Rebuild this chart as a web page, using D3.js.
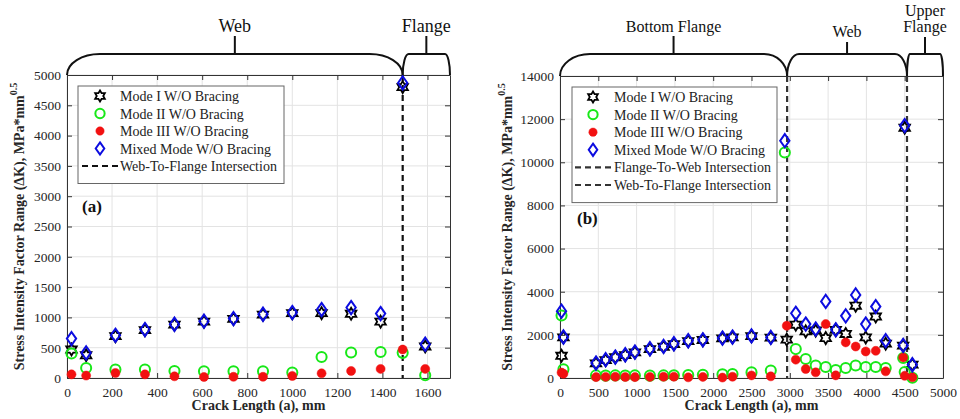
<!DOCTYPE html>
<html><head><meta charset="utf-8">
<script src="https://cdn.jsdelivr.net/npm/d3@7"></script>
<style>body{margin:0;background:#fff}svg{display:block}</style>
</head><body>
<svg id="c" width="960" height="419"></svg>
<script>
// ---------- DATA ----------
const leftX       = [20, 85, 215, 346, 477, 608, 739, 870, 1000, 1130, 1261, 1392, 1490, 1590];
const leftModeI   = [470, 375, 690, 790, 880, 930, 975, 1045, 1070, 1070, 1060, 930, 4800, 520];
const leftModeII  = [405, 165, 140, 140, 116, 110, 110, 110, 90, 347, 420, 430, 415, 45];
const leftModeIII = [60, 40, 83, 60, 28, 17, 20, 20, 33, 77, 116, 150, 470, 150];
const leftMixed   = [650, 415, 705, 800, 887, 937, 980, 1052, 1080, 1130, 1163, 1063, 4870, 557];

const rightX       = [20, 45, 470, 596, 722, 852, 978, 1174, 1352, 1487, 1674, 1865, 2121, 2252, 2500, 2752, 2935, 2960,
                      3078, 3208, 3338, 3469, 3600, 3730, 3860, 3991, 4122, 4252, 4480, 4500, 4600];
const rightModeI   = [1030, 1880, 680, 830, 960, 1060, 1190, 1340, 1450, 1570, 1710, 1760, 1840, 1880, 1940, 1870, null, 1780,
                      2470, 2160, 2200, 1850, 2230, 2040, 3350, 1880, 2850, 1590, 1500, 11600, 620];
const rightModeII  = [2900, 400, 120, 110, 120, 115, 120, 110, 120, 125, 140, 150, 170, 185, 260, 350, 10450, null,
                      1340, 880, 580, 510, 370, 460, 580, 510, 510, 460, 925, 277, 15];
const rightModeIII = [250, 200, 40, 50, 55, 45, 40, 50, 55, 60, 30, 50, 20, 60, 120, 76, null, 2420,
                      850, 416, 262, 2500, 122, 1650, 1460, 1230, 1260, 308, 955, 100, 30];
const rightMixed   = [3100, 1900, 694, 847, 971, 1078, 1201, 1356, 1464, 1587, 1726, 1772, 1850, 1897, 1950, 1880, 11000, null,
                      3000, 2500, 2270, 3550, 2235, 2880, 3850, 2500, 3310, 1730, 1510, 11700, 615];

const leftXTicks = [0, 200, 400, 600, 800, 1000, 1200, 1400, 1600];
const leftYTicks = [0, 500, 1000, 1500, 2000, 2500, 3000, 3500, 4000, 4500, 5000];
const rightXTicks = [0, 500, 1000, 1500, 2000, 2500, 3000, 3500, 4000, 4500, 5000];
const rightYTicks = [0, 2000, 4000, 6000, 8000, 10000, 12000, 14000];

const leftLines = [1490];
const rightLines = [2965, 4530];

const leftRegions = [{name: ["Web"], from: 0, to: 1490}, {name: ["Flange"], from: 1490, to: 1700}];
const rightRegions = [{name: ["Bottom Flange"], from: 0, to: 2965}, {name: ["Web"], from: 2965, to: 4530},
                      {name: ["Upper", "Flange"], from: 4530, to: 5000}];

const seriesNames = ["Mode I W/O Bracing", "Mode II W/O Bracing", "Mode III W/O Bracing", "Mixed Mode W/O Bracing"];
const leftLineNames = ["Web-To-Flange Intersection"];
const rightLineNames = ["Flange-To-Web Intersection", "Web-To-Flange Intersection"];

// ---------- MARKERS ----------
const hexagram = {draw(ctx, size) {
  const R = Math.sqrt(size) * 0.62, r = R / Math.sqrt(3);
  for (let i = 0; i < 12; i++) {
    const a = -Math.PI / 2 + i * Math.PI / 6, rr = i % 2 ? r : R;
    const x = rr * Math.cos(a), y = rr * Math.sin(a);
    i ? ctx.lineTo(x, y) : ctx.moveTo(x, y);
  }
  ctx.closePath();
}};
const tallDiamond = {draw(ctx, size) {
  const h = Math.sqrt(size) * 0.62, w = h * 0.7;
  ctx.moveTo(0, -h); ctx.lineTo(w, 0); ctx.lineTo(0, h); ctx.lineTo(-w, 0); ctx.closePath();
}};
const styles = [
  {type: hexagram, size: 95, fill: "none", stroke: "#000", sw: 1.8},
  {type: d3.symbolCircle, size: 80, fill: "none", stroke: "#18e818", sw: 2},
  {type: d3.symbolCircle, size: 64, fill: "#f21111", stroke: "#f21111", sw: 0.5},
  {type: tallDiamond, size: 115, fill: "none", stroke: "#0c0ce0", sw: 2}
];

const svg = d3.select("#c");
const serif = "'Liberation Serif','Times New Roman',serif";

function panel(cfg) {
  const x = d3.scaleLinear().domain(cfg.xDomain).range([cfg.l, cfg.r]);
  const y = d3.scaleLinear().domain(cfg.yDomain).range([cfg.b, cfg.t]);
  const g = svg.append("g");
  const fmt = d3.format("d");
  // grid
  g.append("g").selectAll("line").data(cfg.xTicks).join("line")
    .attr("x1", d => x(d)).attr("x2", d => x(d)).attr("y1", cfg.t).attr("y2", cfg.b)
    .attr("stroke", "#e3e3e3").attr("stroke-width", 1);
  g.append("g").selectAll("line").data(cfg.yTicks).join("line")
    .attr("y1", d => y(d)).attr("y2", d => y(d)).attr("x1", cfg.l).attr("x2", cfg.r)
    .attr("stroke", "#e3e3e3").attr("stroke-width", 1);
  // axes
  const ax = (gen, tr) => g.append("g").attr("transform", tr).call(gen)
    .call(s => s.select(".domain").attr("stroke", "#333"))
    .call(s => s.selectAll(".tick line").attr("stroke", "#333"))
    .call(s => s.selectAll("text").attr("font-family", serif).attr("font-size", 13.5).attr("fill", "#262626"));
  ax(d3.axisBottom(x).tickValues(cfg.xTicks).tickFormat(fmt).tickSize(-5).tickPadding(9).tickSizeOuter(0), `translate(0,${cfg.b})`);
  ax(d3.axisTop(x).tickValues(cfg.xTicks).tickSize(-5).tickFormat("").tickSizeOuter(0), `translate(0,${cfg.t})`);
  ax(d3.axisLeft(y).tickValues(cfg.yTicks).tickFormat(fmt).tickSize(-5).tickPadding(6).tickSizeOuter(0), `translate(${cfg.l},0)`);
  ax(d3.axisRight(y).tickValues(cfg.yTicks).tickSize(-5).tickFormat("").tickSizeOuter(0), `translate(${cfg.r},0)`);
  // dashed intersection lines
  g.append("g").selectAll("line").data(cfg.lines).join("line")
    .attr("x1", d => x(d)).attr("x2", d => x(d)).attr("y1", cfg.t).attr("y2", cfg.b)
    .attr("stroke", cfg.lineColor).attr("stroke-width", 2.2).attr("stroke-dasharray", "6,4");
  // series
  cfg.series.forEach((vals, i) => {
    const st = styles[i];
    const sym = d3.symbol().type(st.type).size(st.size);
    g.append("g").selectAll("path").data(cfg.xs.map((xv, j) => [xv, vals[j]]).filter(d => d[1] != null)).join("path")
      .attr("d", sym).attr("transform", d => `translate(${x(d[0])},${y(d[1])})`)
      .attr("fill", st.fill).attr("stroke", st.stroke).attr("stroke-width", st.sw);
  });
  // brackets
  const bt = 54;
  cfg.regions.forEach((rg, k) => {
    const x0 = x(rg.from), x1 = x(rg.to), rl = cfg.radii[k][0], rr = cfg.radii[k][1];
    const h = cfg.t - bt;
    g.append("path")
      .attr("d", `M${x0},${cfg.t} A${rl},${h} 0 0 1 ${x0 + rl},${bt} L${x1 - rr},${bt} A${rr},${h} 0 0 1 ${x1},${cfg.t}`)
      .attr("fill", "none").attr("stroke", "#111").attr("stroke-width", 2);
    const xc = (x0 + x1) / 2;
    g.append("line").attr("x1", xc).attr("x2", xc).attr("y1", bt).attr("y2", cfg.stemTop[k])
      .attr("stroke", "#111").attr("stroke-width", 2);
    rg.name.forEach((nm, m) => {
      g.append("text").attr("x", xc).attr("y", cfg.labelY[k][m]).attr("text-anchor", "middle")
        .attr("font-family", serif).attr("font-size", cfg.labelSize).attr("fill", "#111").text(nm);
    });
  });
  // axis labels
  g.append("text").attr("x", (cfg.l + cfg.r) / 2).attr("y", 410).attr("text-anchor", "middle")
    .attr("font-family", serif).attr("font-weight", "bold").attr("font-size", 14).attr("fill", "#262626")
    .text("Crack Length (a), mm");
  const yl = g.append("text").attr("transform", `translate(${cfg.ylx},${(cfg.t + cfg.b) / 2}) rotate(-90)`)
    .attr("text-anchor", "middle").attr("font-family", serif).attr("font-weight", "bold").attr("font-size", 14)
    .attr("fill", "#262626");
  yl.append("tspan").text("Stress Intensity Factor Range (\u0394K), MPa*mm");
  yl.append("tspan").attr("dy", -7).attr("font-size", 10).text("0.5");
  // panel tag
  g.append("text").attr("x", cfg.tag[0]).attr("y", cfg.tag[1]).attr("font-family", serif)
    .attr("font-weight", "bold").attr("font-size", 17).attr("fill", "#111").text(cfg.tagText);
  // legend
  const L = cfg.legend;
  const names = seriesNames.concat(cfg.lineNames);
  const lg = g.append("g");
  lg.append("rect").attr("x", L.x).attr("y", L.y).attr("width", L.w).attr("height", names.length * L.dy + 10)
    .attr("fill", "#fff").attr("stroke", "#666").attr("stroke-width", 1);
  names.forEach((nm, i) => {
    const cy = L.y + 10 + L.dy * i;
    if (i < 4) {
      const st = styles[i];
      lg.append("path").attr("d", d3.symbol().type(st.type).size(st.size * 0.85))
        .attr("transform", `translate(${L.sx},${cy})`)
        .attr("fill", st.fill).attr("stroke", st.stroke).attr("stroke-width", st.sw);
    } else {
      lg.append("line").attr("x1", L.sx - 18).attr("x2", L.sx + 19).attr("y1", cy).attr("y2", cy)
        .attr("stroke", cfg.lineColor).attr("stroke-width", 2.2).attr("stroke-dasharray", "6,4");
    }
    lg.append("text").attr("x", L.tx).attr("y", cy + 5).attr("font-family", serif).attr("font-size", 14)
      .attr("fill", "#222").text(nm);
  });
}

panel({
  l: 67, r: 450, t: 75, b: 378, xDomain: [0, 1700], yDomain: [0, 5000],
  xTicks: leftXTicks, yTicks: leftYTicks, lines: leftLines, lineColor: "#111",
  xs: leftX, series: [leftModeI, leftModeII, leftModeIII, leftMixed],
  regions: leftRegions, radii: [[33, 33], [6, 5]], stemTop: [36, 36], labelY: [[32], [32]], labelSize: 18,
  ylx: 24, tag: [82, 212], tagText: "(a)", lineNames: leftLineNames,
  legend: {x: 78, y: 86, w: 206, dy: 17.5, sx: 100, tx: 120}
});
panel({
  l: 560, r: 943, t: 76, b: 378, xDomain: [0, 5000], yDomain: [0, 14000],
  xTicks: rightXTicks, yTicks: rightYTicks, lines: rightLines, lineColor: "#333",
  xs: rightX, series: [rightModeI, rightModeII, rightModeIII, rightMixed],
  regions: rightRegions, radii: [[30, 23], [12, 12], [3, 3]], stemTop: [36, 42, 37],
  labelY: [[32], [37], [16, 32]], labelSize: 16,
  ylx: 512, tag: [577, 224], tagText: "(b)", lineNames: rightLineNames,
  legend: {x: 572, y: 87, w: 205, dy: 17.6, sx: 593, tx: 614}
});
</script>
</body></html>
